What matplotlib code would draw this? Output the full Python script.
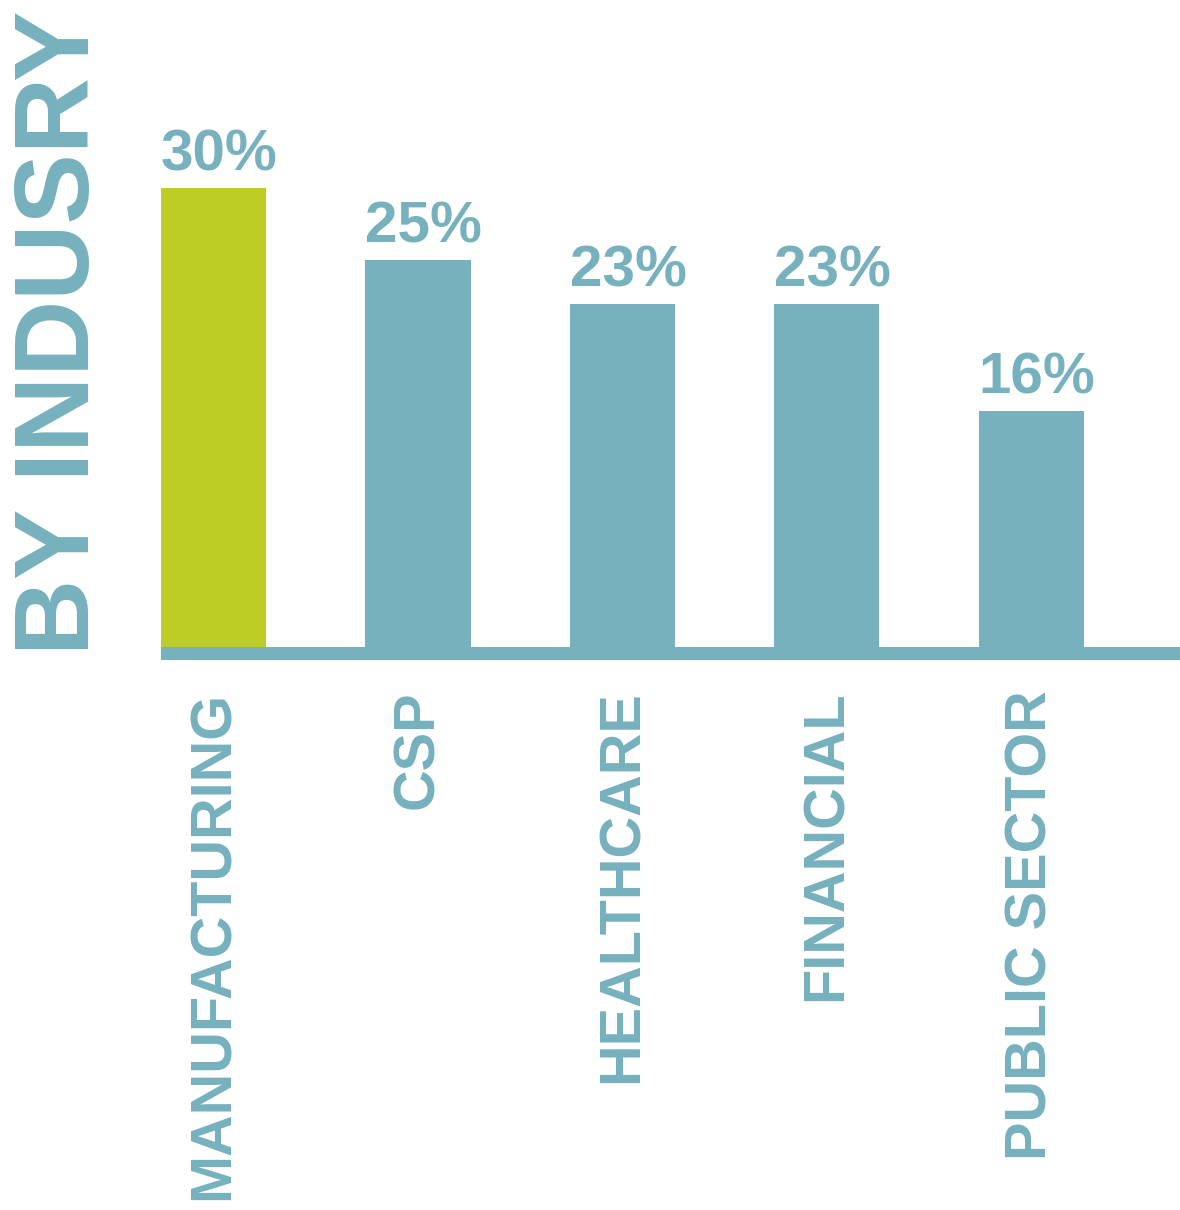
import matplotlib
matplotlib.use("Agg")
import matplotlib.pyplot as plt

categories = ["MANUFACTURING", "CSP", "HEALTHCARE", "FINANCIAL", "PUBLIC SECTOR"]
values = [30.0, 25.3, 22.4, 22.4, 15.4]
value_labels = ["30%", "25%", "23%", "23%", "16%"]
title = "BY INDUSRY"

TEAL = "#77B1BE"
GREEN = "#BECD26"
colors = [GREEN, TEAL, TEAL, TEAL, TEAL]

W, H = 1180, 1210
fig = plt.figure(figsize=(W / 100, H / 100), dpi=100)
fig.patch.set_facecolor("white")

# axes in pixel layout
left, right, bottom, top = 161, 1180, 660, 0
ax = fig.add_axes([left / W, (H - bottom) / H, (right - left) / W, (bottom - top) / H])
px_per_unit = 15.3
base = 13 / px_per_unit
ax.set_ylim(-base, (bottom - top) / px_per_unit - base)
width = 0.515
ax.set_xlim(-width / 2, (right - 214) / 204.3)

x = list(range(len(categories)))
ax.bar(x, values, width=width, color=colors, linewidth=0)
ax.axhspan(-base, 0, color=TEAL, linewidth=0)

font = "Liberation Sans"
for xi, v, lab in zip(x, values, value_labels):
    ax.annotate(lab, (xi, v), xytext=(4, 4), textcoords="offset points",
                ha="center", va="bottom", fontsize=42, fontweight="bold",
                family=font, color=TEAL)

ax.set_xticks(x)
ax.set_xticklabels(categories, rotation=90, fontsize=41.5, fontweight="bold",
                   family=font, color=TEAL, va="top", ha="center")
ax.tick_params(axis="x", length=0, pad=22)
ax.tick_params(axis="y", left=False, labelleft=False)
for s in ax.spines.values():
    s.set_visible(False)
ax.set_facecolor("none")

fig.text(12 / W, (H - 655) / H, title, rotation=90, ha="left", va="bottom",
         fontsize=76, fontweight="bold", family=font, color=TEAL)

fig.savefig("out.png", dpi=100, facecolor="white")
